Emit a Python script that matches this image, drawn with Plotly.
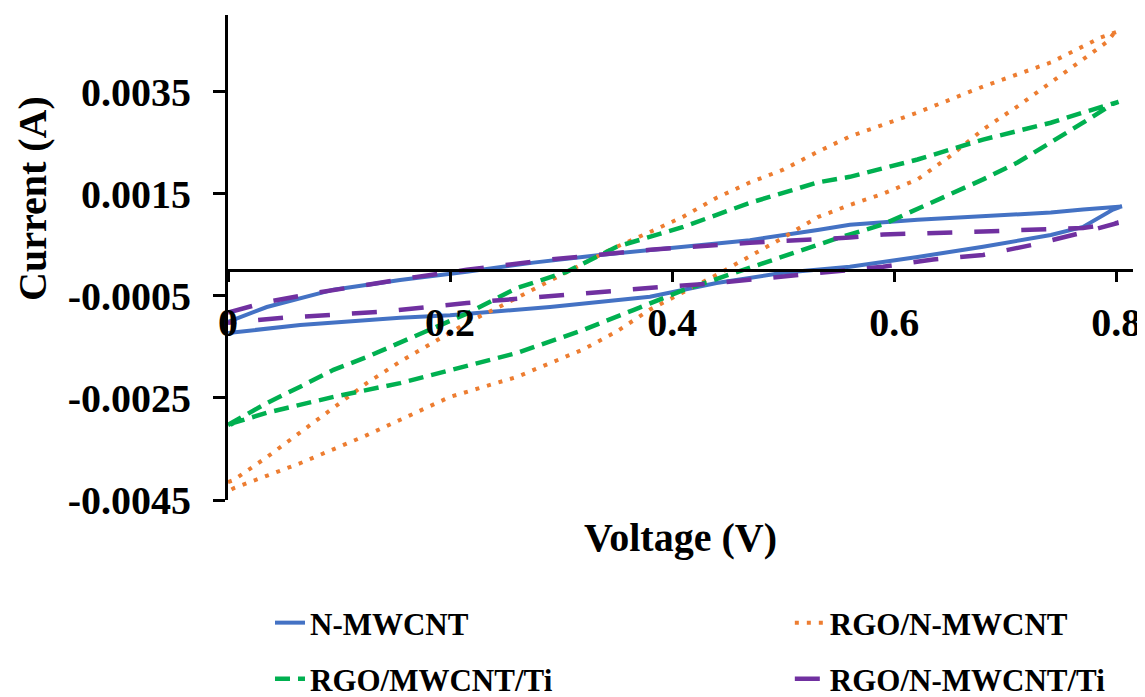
import plotly.graph_objects as go

# ---- data (Voltage V, Current A), each a closed CV loop ----
n_mwcnt_v = [0, 0.035, 0.095, 0.155, 0.215, 0.275, 0.335, 0.380, 0.470, 0.531, 0.560, 0.621, 0.680, 0.741, 0.770, 0.805,
             0.797, 0.770, 0.741, 0.680, 0.621, 0.560, 0.500, 0.440, 0.380, 0.290, 0.200, 0.155, 0.065, 0]
n_mwcnt_i = [-0.00101, -0.00072, -0.00038, -0.00019, -0.00003, 0.00015, 0.00030, 0.00040, 0.00059, 0.00079, 0.00089,
             0.00099, 0.00105, 0.00113, 0.00119, 0.00125,
             0.00119, 0.00085, 0.00069, 0.00046, 0.00026, 0.00007, -0.00005, -0.00025, -0.00052, -0.00072, -0.00088,
             -0.00093, -0.00107, -0.00123]

rgo_n_v = [0, 0.005, 0.035, 0.065, 0.095, 0.125, 0.155, 0.185, 0.215, 0.245, 0.275, 0.305, 0.344, 0.380, 0.410, 0.440,
           0.470, 0.500, 0.531, 0.560, 0.621, 0.680, 0.741, 0.786, 0.802,
           0.797, 0.792, 0.770, 0.741, 0.711, 0.680, 0.650, 0.621, 0.590, 0.560, 0.531, 0.500, 0.470, 0.440, 0.410,
           0.380, 0.350, 0.320, 0.260, 0.200, 0.125, 0.065, 0.005, 0]
rgo_n_i = [-0.00415, -0.00411, -0.00366, -0.00317, -0.00268, -0.00221, -0.00179, -0.00142, -0.00103, -0.00071, -0.00038,
           -0.00005, 0.00040, 0.00075, 0.00105, 0.00142, 0.00172, 0.00197, 0.00232, 0.00262, 0.00309, 0.00360, 0.00407,
           0.00456, 0.00468,
           0.00462, 0.00448, 0.00413, 0.00368, 0.00321, 0.00276, 0.00223, 0.00178, 0.00150, 0.00128, 0.00104, 0.00064,
           0.00027, -0.00009, -0.00043, -0.00077, -0.00120, -0.00155, -0.00209, -0.00248, -0.00323, -0.00378, -0.00427,
           -0.00433]

rgo_ti_v = [0, 0.035, 0.065, 0.095, 0.125, 0.155, 0.185, 0.215, 0.260, 0.305, 0.350, 0.410, 0.470, 0.531, 0.560, 0.621,
            0.680, 0.741, 0.770, 0.802,
            0.797, 0.770, 0.741, 0.711, 0.680, 0.621, 0.590, 0.545, 0.500, 0.455, 0.410, 0.365, 0.320, 0.260, 0.200,
            0.155, 0.095, 0.065, 0.035, 0.005, 0]
rgo_ti_i = [-0.00303, -0.00260, -0.00228, -0.00195, -0.00170, -0.00142, -0.00114, -0.00085, -0.00035, -0.00003, 0.00046,
            0.00085, 0.00132, 0.00172, 0.00183, 0.00217, 0.00256, 0.00289, 0.00309, 0.00330,
            0.00326, 0.00289, 0.00250, 0.00211, 0.00178, 0.00119, 0.00090, 0.00060, 0.00027, -0.00005, -0.00039,
            -0.00078, -0.00117, -0.00162, -0.00195, -0.00221, -0.00248, -0.00264, -0.00279, -0.00299, -0.00305]

rgo_n_ti_v = [0, 0.035, 0.080, 0.125, 0.170, 0.215, 0.290, 0.380, 0.470, 0.560, 0.590, 0.680, 0.770, 0.802,
              0.770, 0.725, 0.680, 0.635, 0.590, 0.515, 0.440, 0.395, 0.305, 0.215, 0.140, 0.095, 0.050, 0]
rgo_n_ti_i = [-0.00083, -0.00062, -0.00044, -0.00028, -0.00013, 0.00001, 0.00021, 0.00040, 0.00054, 0.00064, 0.00070,
              0.00076, 0.00083, 0.00093,
              0.00074, 0.00050, 0.00030, 0.00021, 0.00007, -0.00009, -0.00025, -0.00032, -0.00048, -0.00064, -0.00081,
              -0.00087, -0.00093, -0.00103]

series_names = ["N-MWCNT", "RGO/N-MWCNT", "RGO/MWCNT/Ti", "RGO/N-MWCNT/Ti"]
x_tick_vals = [0, 0.2, 0.4, 0.6, 0.8]
x_tick_text = ["0", "0.2", "0.4", "0.6", "0.8"]
y_tick_vals = [-0.0045, -0.0025, -0.0005, 0.0015, 0.0035]
y_tick_text = ["-0.0045", "-0.0025", "-0.0005", "0.0015", "0.0035"]

FONT = "Liberation Serif"
Y_MIN, Y_MAX = -0.0045, 0.005

fig = go.Figure()
styles = [
    dict(color="#4472C4", width=4, dash="solid"),
    dict(color="#ED7D31", width=4, dash="4px,8px"),
    dict(color="#00B050", width=4.5, dash="15px,8px"),
    dict(color="#7030A0", width=4.5, dash="25px,22px"),
]
data = [(n_mwcnt_v, n_mwcnt_i), (rgo_n_v, rgo_n_i), (rgo_ti_v, rgo_ti_i), (rgo_n_ti_v, rgo_n_ti_i)]
legend_ids = ["legend", "legend2", "legend3", "legend4"]
for name, (vx, iy), st, lg in zip(series_names, data, styles, legend_ids):
    fig.add_trace(go.Scatter(x=vx, y=iy, mode="lines", name=name, line=st, legend=lg))

# legend cells (paper fractions of the plot area)
legend_pos = [(0.0464, -0.2536), (0.6208, -0.2536), (0.0464, -0.3691), (0.6208, -0.3691)]
leg_layout = {}
for lg, (lx, ly) in zip(legend_ids, legend_pos):
    leg_layout[lg] = dict(orientation="h", x=lx, y=ly,
                          xanchor="left", yanchor="middle", bgcolor="rgba(0,0,0,0)",
                          font=dict(family=FONT, size=31, color="black", weight="bold"))

# the page body adds an 8px offset, so the figure is sized to the visible area
fig.update_layout(
    width=1137, height=689,
    margin=dict(l=220, r=12, t=7, b=197, autoexpand=False),
    paper_bgcolor="white", plot_bgcolor="white",
    showlegend=True,
    xaxis=dict(range=[0, 0.815], showgrid=False, zeroline=False,
               showline=True, linecolor="black", linewidth=3,
               anchor="free", position=(0 - Y_MIN) / (Y_MAX - Y_MIN),
               ticks="outside", ticklen=10, tickwidth=3, tickcolor="black",
               tickvals=x_tick_vals, ticktext=x_tick_text, ticklabelstandoff=6,
               tickfont=dict(family=FONT, size=40, color="black", weight="bold"),
               title=dict(text="Voltage (V)", standoff=178,
                          font=dict(family=FONT, size=40, color="black", weight="bold"))),
    yaxis=dict(range=[Y_MIN, Y_MAX], showgrid=False, zeroline=False,
               showline=True, linecolor="black", linewidth=3,
               ticks="outside", ticklen=12, tickwidth=3, tickcolor="black",
               tickvals=y_tick_vals, ticktext=y_tick_text, ticklabelstandoff=14,
               tickfont=dict(family=FONT, size=40, color="black", weight="bold")),
    annotations=[dict(text="Current (A)", textangle=-90, xref="paper", yref="paper",
                      x=-0.2155, y=0.6227, xanchor="center", yanchor="middle", showarrow=False,
                      font=dict(family=FONT, size=40, color="black", weight="bold"))],
    **leg_layout,
)

fig.write_html("out.html")
